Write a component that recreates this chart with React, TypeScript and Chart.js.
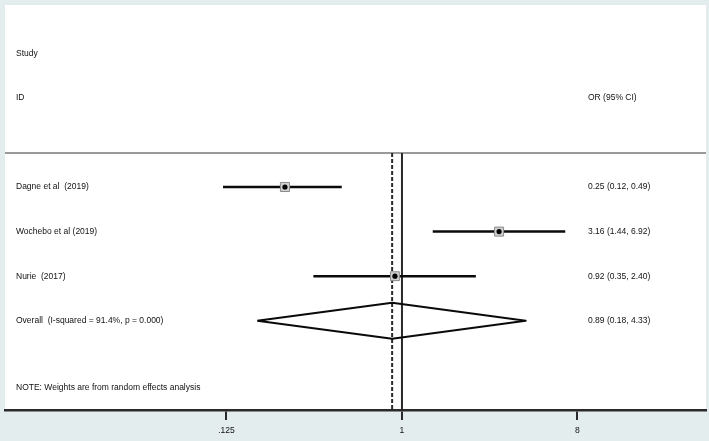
import React, { useEffect, useRef } from "react";
import { Chart, registerables } from "chart.js";

Chart.register(...registerables);

// ---- data ----
const studyLabels = ["Dagne et al  (2019)", "Wochebo et al (2019)", "Nurie  (2017)"];
const studyOR = [0.25, 3.16, 0.92];
const studyLower = [0.12, 1.44, 0.35];
const studyUpper = [0.49, 6.92, 2.4];
const studyWeights = [34.1, 33.5, 32.4];
const studyORText = ["0.25 (0.12, 0.49)", "3.16 (1.44, 6.92)", "0.92 (0.35, 2.40)"];

const overallLabel = "Overall  (I-squared = 91.4%, p = 0.000)";
const overallOR = 0.89;
const overallLower = 0.18;
const overallUpper = 4.33;
const overallORText = "0.89 (0.18, 4.33)";

const headerLeft = ["Study", "ID"];
const headerRight = "OR (95% CI)";
const noteText = "NOTE: Weights are from random effects analysis";

const xTickValues = [0.125, 1, 8];
const xTickLabels = [".125", "1", "8"];

// row layout (in row units)
const studyRows = [3, 4, 5];
const overallRow = 6;
const headerRows = [0, 1];
const separatorRow = 2.24;
const noteRow = 7.5;
const yMin = -1.08;
const yMax = 8;
const xMin = 0.009064;
const xMax = 36.68;

const FONT = "'Liberation Sans', Arial, sans-serif";
const TEXT_COLOR = "#111111";

export default function App() {
  const canvasRef = useRef<HTMLCanvasElement | null>(null);

  useEffect(() => {
    const canvas = canvasRef.current;
    if (!canvas) return;

    const datasets: any[] = [];

    // reference lines
    datasets.push({
      label: "null",
      data: [
        { x: 1, y: separatorRow },
        { x: 1, y: yMax },
      ],
      showLine: true,
      borderColor: "#2a2a2a",
      borderWidth: 2,
      pointRadius: 0,
      order: 10,
    });
    datasets.push({
      label: "overall-ref",
      data: [
        { x: overallOR, y: separatorRow },
        { x: overallOR, y: yMax },
      ],
      showLine: true,
      borderColor: "#2a2a2a",
      borderWidth: 2,
      borderDash: [4, 2],
      pointRadius: 0,
      order: 10,
    });

    // CI lines
    studyOR.forEach((_, i) => {
      datasets.push({
        label: "ci" + i,
        data: [
          { x: studyLower[i], y: studyRows[i] },
          { x: studyUpper[i], y: studyRows[i] },
        ],
        showLine: true,
        borderColor: "#0a0a0a",
        borderWidth: 2.5,
        pointRadius: 0,
        order: 8,
      });
    });

    // diamond
    const h = 0.405;
    datasets.push({
      label: "diamond",
      data: [
        { x: overallLower, y: overallRow },
        { x: overallOR, y: overallRow - h },
        { x: overallUpper, y: overallRow },
        { x: overallOR, y: overallRow + h },
        { x: overallLower, y: overallRow },
      ],
      showLine: true,
      borderColor: "#0a0a0a",
      borderWidth: 2,
      borderJoinStyle: "round",
      pointRadius: 0,
      tension: 0,
      order: 8,
    });

    // weight boxes
    datasets.push({
      label: "boxes",
      data: studyOR.map((v, i) => ({ x: v, y: studyRows[i] })),
      pointStyle: "rect",
      pointRadius: studyWeights.map((w) => Math.sqrt(w) * 1.1),
      backgroundColor: "#cfcfcf",
      borderColor: "#8a8a8a",
      borderWidth: 1,
      order: 6,
    });

    // point estimates
    datasets.push({
      label: "points",
      data: studyOR.map((v, i) => ({ x: v, y: studyRows[i] })),
      pointStyle: "circle",
      pointRadius: 2.6,
      backgroundColor: "#000",
      borderColor: "#000",
      borderWidth: 0,
      order: 4,
    });

    const bgPlugin = {
      id: "bg",
      beforeDraw(chart: any) {
        const { ctx, chartArea } = chart;
        ctx.save();
        ctx.fillStyle = "#e4eded";
        ctx.fillRect(0, 0, chart.width, chart.height);
        ctx.fillStyle = "#ffffff";
        ctx.fillRect(chartArea.left, chartArea.top, chartArea.right - chartArea.left, chartArea.bottom - chartArea.top);
        // separator line
        const ys = chart.scales.y.getPixelForValue(separatorRow);
        ctx.strokeStyle = "#9a9a9a";
        ctx.lineWidth = 2;
        ctx.beginPath();
        ctx.moveTo(chartArea.left, ys);
        ctx.lineTo(chartArea.right, ys);
        ctx.stroke();
        ctx.restore();
      },
    };

    const textPlugin = {
      id: "texts",
      afterDatasetsDraw(chart: any) {
        const { ctx, chartArea } = chart;
        const y = chart.scales.y;
        const leftX = chartArea.left + 11;
        const rightX = chartArea.left + 583;
        ctx.save();
        ctx.fillStyle = TEXT_COLOR;
        ctx.font = `8.5px ${FONT}`;
        ctx.textBaseline = "middle";
        ctx.textAlign = "left";
        headerLeft.forEach((t, i) => ctx.fillText(t, leftX, y.getPixelForValue(headerRows[i])));
        ctx.fillText(headerRight, rightX, y.getPixelForValue(headerRows[1]));
        studyLabels.forEach((t, i) => {
          ctx.fillText(t, leftX, y.getPixelForValue(studyRows[i]));
          ctx.fillText(studyORText[i], rightX, y.getPixelForValue(studyRows[i]));
        });
        ctx.fillText(overallLabel, leftX, y.getPixelForValue(overallRow));
        ctx.fillText(overallORText, rightX, y.getPixelForValue(overallRow));
        ctx.fillText(noteText, leftX, y.getPixelForValue(noteRow));
        ctx.restore();
      },
    };

    const chart = new Chart(canvas, {
      type: "scatter",
      data: { datasets },
      options: {
        animation: false,
        responsive: false,
        events: [],
        layout: { autoPadding: false, padding: { left: 5, right: 3, top: 5, bottom: 0 } },
        plugins: {
          legend: { display: false },
          tooltip: { enabled: false },
        },
        scales: {
          x: {
            type: "logarithmic",
            min: xMin,
            max: xMax,
            bounds: "data",
            afterBuildTicks: (scale: any) => {
              scale.ticks = xTickValues.map((v) => ({ value: v }));
            },
            afterFit: (scale: any) => {
              scale.height = 31;
            },
            ticks: {
              autoSkip: false,
              maxRotation: 0,
              padding: 6,
              color: TEXT_COLOR,
              font: { size: 8.5, family: FONT },
              callback: (value: any) => {
                const idx = xTickValues.findIndex((t) => Math.abs(t - Number(value)) < 1e-9);
                return idx >= 0 ? xTickLabels[idx] : "";
              },
            },
            grid: {
              drawOnChartArea: false,
              drawTicks: true,
              tickLength: 10,
              color: "#2a2a2a",
              lineWidth: 2,
            },
            border: { display: true, color: "#2a2a2a", width: 2.5 },
          },
          y: {
            type: "linear",
            reverse: true,
            min: yMin,
            max: yMax,
            display: false,
          },
        },
      },
      plugins: [bgPlugin, textPlugin],
    } as any);

    return () => chart.destroy();
  }, []);

  return (
    <div style={{ position: "fixed", left: 0, top: 0, width: 709, height: 441 }}>
      <canvas ref={canvasRef} width={709} height={441} style={{ display: "block", width: 709, height: 441 }} />
    </div>
  );
}
